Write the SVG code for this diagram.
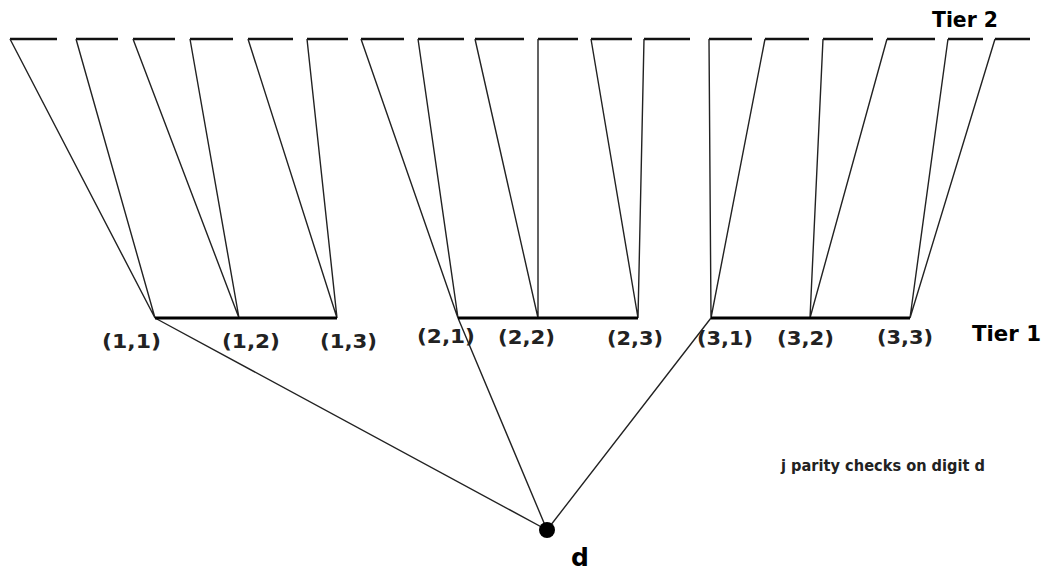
<svg xmlns="http://www.w3.org/2000/svg" width="1047" height="572" viewBox="0 0 1047 572">
<style>
.t2{stroke:#111;stroke-width:2.4;fill:none}
.ln{stroke:#222;stroke-width:1.4;fill:none}
.bar{stroke:#000;stroke-width:3;fill:none}
.lab{font-family:"DejaVu Sans",sans-serif;font-weight:bold;font-size:19px;fill:#222}
.tier{font-family:"DejaVu Sans",sans-serif;font-weight:bold;font-size:22px;fill:#000}
.note{font-family:"DejaVu Sans",sans-serif;font-weight:bold;font-size:16px;fill:#222}
</style>
<rect width="1047" height="572" fill="#fff"/>
<g id="tier2">
<path class="t2" d="M10 39H57M76 39H118M133 39H175M190 39H233M248 39H293M307 39H348M361 39H404M418 39H464M475 39H524M538 39H578M591 39H632M644 39H690M709 39H752M765 39H809M823 39H873M887 39H935M948 39H983M995 39H1030"/>
<text class="tier" x="932" y="27" textLength="66" lengthAdjust="spacingAndGlyphs">Tier 2</text>
</g>
<g id="connectors">
<path class="ln" d="M10 39L155 318M76 39L155 318M133 39L239 318M190 39L239 318M248 39L337 318M307 39L337 318"/>
<path class="ln" d="M361 39L458 318M418 39L458 318M475 39L538 318M538 39L538 318M591 39L638 318M644 39L638 318"/>
<path class="ln" d="M709 39L711 318M765 39L711 318M823 39L810 318M887 39L810 318M948 39L910 318M995 39L910 318"/>
<path class="ln" d="M155 318L547 530M458 318L547 530M711 318L547 530"/>
</g>
<g id="tier1">
<path class="bar" d="M155 318H337M458 318H638M711 318H910"/>
<text class="tier" x="972" y="341" textLength="69" lengthAdjust="spacingAndGlyphs">Tier 1</text>
</g>
<g id="labels">
<text class="lab" x="102" y="348" textLength="59" lengthAdjust="spacingAndGlyphs">(1,1)</text>
<text class="lab" x="222" y="348" textLength="58" lengthAdjust="spacingAndGlyphs">(1,2)</text>
<text class="lab" x="320" y="348" textLength="57" lengthAdjust="spacingAndGlyphs">(1,3)</text>
<text class="lab" x="417" y="343" textLength="58" lengthAdjust="spacingAndGlyphs">(2,1)</text>
<text class="lab" x="498" y="344" textLength="57" lengthAdjust="spacingAndGlyphs">(2,2)</text>
<text class="lab" x="607" y="345" textLength="56" lengthAdjust="spacingAndGlyphs">(2,3)</text>
<text class="lab" x="697" y="345" textLength="56" lengthAdjust="spacingAndGlyphs">(3,1)</text>
<text class="lab" x="777" y="345" textLength="57" lengthAdjust="spacingAndGlyphs">(3,2)</text>
<text class="lab" x="877" y="344" textLength="56" lengthAdjust="spacingAndGlyphs">(3,3)</text>
</g>
<g id="node-d">
<circle cx="547" cy="530" r="8" fill="#000"/>
<text x="571" y="566" style="font-family:'DejaVu Sans',sans-serif;font-weight:bold;font-size:25px;fill:#000">d</text>
</g>
<g id="note">
<text class="note" x="781" y="471" textLength="204" lengthAdjust="spacingAndGlyphs">j parity checks on digit d</text>
</g>
</svg>
